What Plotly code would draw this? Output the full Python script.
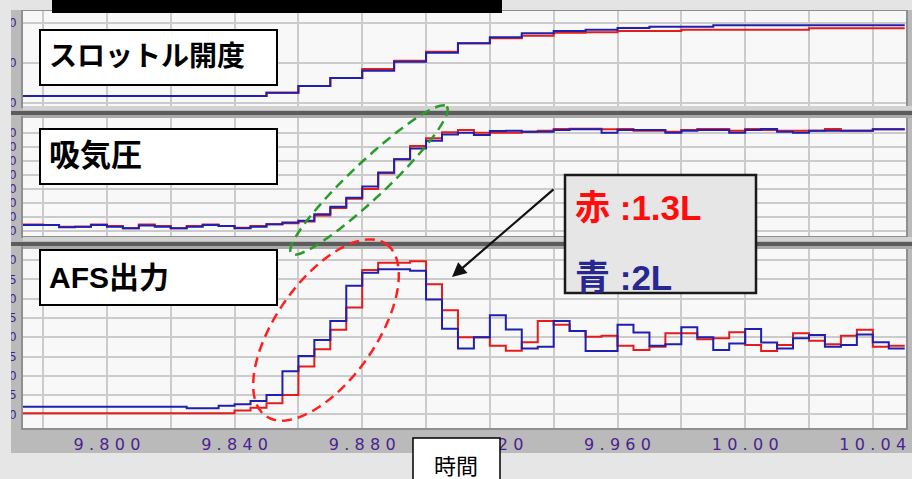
import numpy as np
import plotly.graph_objects as go

# ---------------- data ----------------
# throttle opening [%], sampled every 10 ms from 9.770 s
t_throttle = np.round(np.arange(29) * 0.01 + 9.77, 3)
throttle_blue = [8.75, 8.75, 8.75, 8.75, 8.75, 8.75, 8.75, 8.75, 12.9, 21.3,
                 31.3, 40.4, 51.6, 62.9, 74.6, 82.1, 87.1, 90.0, 91.6, 93.8,
                 95.4, 95.4, 97.1, 97.1, 97.1, 97.1, 97.1, 97.1, 97.1]
throttle_red = [8.75, 8.75, 8.75, 8.75, 8.75, 8.75, 8.75, 8.75, 12.9, 21.3,
                31.3, 42.5, 52.9, 64.1, 74.6, 80.9, 84.1, 87.9, 88.4, 90.0,
                90.0, 91.6, 91.6, 91.6, 91.6, 93.4, 93.4, 93.4, 93.4]

# intake pressure [kPa] and AFS output [V], sampled every 5 ms from 9.770 s
t_fast = np.round(np.arange(57) * 0.005 + 9.77, 3)
press_blue = [34.3, 34.3, 34.3, 32.6, 33.1, 34.3, 33.1, 31.9, 34.0, 33.1,
              31.9, 33.1, 34.3, 33.6, 31.9, 33.1, 34.8, 36.0, 37.4, 41.9,
              47.4, 53.8, 61.7, 71.7, 81.2, 89.0, 94.5, 99.0, 100.2, 98.6,
              101.4, 101.6, 100.9, 100.9, 102.1, 102.6, 102.6, 100.2, 102.1, 102.1,
              102.1, 100.2, 101.6, 102.1, 102.1, 100.2, 102.1, 102.9, 100.9, 100.2,
              101.6, 101.6, 101.6, 101.6, 102.6, 102.6, 102.6]
press_red = [34.6, 34.6, 34.3, 33.1, 33.1, 34.6, 33.6, 31.9, 34.6, 33.6,
             31.9, 33.6, 34.6, 33.6, 32.3, 33.6, 34.8, 35.5, 36.8, 41.0,
             46.5, 53.0, 60.0, 71.2, 81.2, 90.7, 96.2, 100.5, 102.1, 100.2,
             100.2, 100.2, 100.9, 101.6, 102.9, 103.1, 103.1, 102.6, 102.9, 101.6,
             101.6, 100.9, 102.1, 102.9, 102.9, 101.6, 102.9, 102.1, 101.6, 101.6,
             101.6, 102.9, 101.6, 101.6, 102.6, 102.6, 102.6]
afs_blue = [1.20, 1.20, 1.20, 1.20, 1.20, 1.20, 1.20, 1.20, 1.20, 1.20,
            1.20, 1.16, 1.16, 1.225, 1.26, 1.35, 1.50, 2.12, 2.51, 2.93,
            3.42, 4.33, 4.67, 4.76, 4.76, 4.72, 3.98, 3.22, 2.71, 3.00,
            3.57, 3.20, 2.71, 2.75, 3.42, 3.16, 2.64, 2.64, 3.32, 3.12,
            2.78, 2.82, 3.26, 3.00, 2.67, 2.84, 3.21, 2.86, 2.71, 2.97,
            3.06, 2.75, 2.80, 3.07, 2.87, 2.71, 2.71]
afs_red = [1.03, 1.03, 1.03, 1.03, 1.03, 1.03, 1.03, 1.03, 1.03, 1.03,
           1.03, 1.03, 1.03, 1.03, 1.10, 1.17, 1.29, 1.50, 2.24, 2.69,
           3.19, 3.77, 4.74, 4.93, 4.93, 4.97, 4.37, 3.70, 3.00, 3.00,
           2.78, 2.65, 2.87, 3.42, 3.32, 3.16, 3.01, 3.04, 2.78, 2.67,
           2.75, 3.10, 3.10, 2.95, 2.97, 3.13, 2.80, 2.64, 2.80, 3.10,
           2.91, 2.82, 3.04, 3.19, 2.75, 2.78, 2.78]

# axis ticks
x_grid = [9.78, 9.80, 9.82, 9.84, 9.86, 9.88, 9.90, 9.92, 9.94, 9.96, 9.98, 10.00, 10.02, 10.04]
x_labels = ["", "9.800", "", "9.840", "", "9.880", "", "9.920", "", "9.960", "", "10.00", "", "10.04"]
thr_ticks = [0, 50, 100]
press_ticks = [30, 40, 50, 60, 70, 80, 90, 100]
afs_ticks = [1.0, 1.5, 2.0, 2.5, 3.0, 3.5, 4.0, 4.5, 5.0]

panel_titles = ["スロットル開度", "吸気圧", "AFS出力"]
legend_red = "赤 :1.3L"
legend_blue = "青 :2L"
x_title = "時間"

# ---------------- geometry helpers (pixels -> paper) ----------------
W, H = 912, 479
PL, PR, PT, PB = 23, 906, 11, 428


def px(X):
    return (X - PL) / (PR - PL)


def py(Y):
    return (PB - Y) / (PB - PT)


RED = "#e31c1c"
BLUE = "#2020ad"
PURPLE = "#4b1f91"
GRID = "#cbcbcb"

fig = go.Figure()


def step(xs, ys, color, xa, ya):
    fig.add_trace(go.Scatter(x=xs, y=ys, mode="lines",
                             line=dict(color=color, width=2, shape="hv"),
                             xaxis=xa, yaxis=ya, showlegend=False, hoverinfo="skip"))


step(t_throttle, throttle_red, RED, "x3", "y")
step(t_throttle, throttle_blue, BLUE, "x3", "y")
step(t_fast, press_red, RED, "x2", "y2")
step(t_fast, press_blue, BLUE, "x2", "y2")
step(t_fast, afs_red, RED, "x", "y3")
step(t_fast, afs_blue, BLUE, "x", "y3")


def spaced(s):
    return "\u2004".join(s) if s else ""


xtickfont = dict(family="DejaVu Sans", size=16, color=PURPLE)
ytickfont = dict(family="DejaVu Sans", size=12, color=PURPLE)
xrange_ = [9.7737, 10.0504]
common_x = dict(range=xrange_, tickvals=x_grid, showgrid=True, gridcolor=GRID, gridwidth=2,
                showline=True, linecolor="#8f8f8f", linewidth=2, mirror=True,
                zeroline=False, ticks="", fixedrange=True, automargin=False)
common_y = dict(showgrid=True, gridcolor=GRID, gridwidth=2, showline=True,
                linecolor="#8f8f8f", linewidth=2, mirror=True, zeroline=False,
                ticks="", tickfont=ytickfont, ticklabelstandoff=2, automargin=False,
                fixedrange=True)

fig.update_layout(
    width=W, height=H,
    margin=dict(l=PL, r=W - PR, t=PT, b=H - PB, pad=0, autoexpand=False),
    paper_bgcolor="#bababa", plot_bgcolor="#f8f8f8",
    xaxis=dict(domain=[0, 1], anchor="y3", ticktext=[spaced(s) for s in x_labels],
               tickfont=xtickfont, ticklabelstandoff=1, **common_x),
    xaxis2=dict(domain=[0, 1], anchor="y2", matches="x", showticklabels=False, **common_x),
    xaxis3=dict(domain=[0, 1], anchor="y", matches="x", showticklabels=False, **common_x),
    yaxis=dict(domain=[py(106), 1.0], anchor="x3", range=[-3.75, 115],
               tickvals=thr_ticks, ticktext=[str(v) for v in thr_ticks], **common_y),
    yaxis2=dict(domain=[py(236), py(118)], anchor="x2", range=[26.43, 110.7],
                tickvals=press_ticks, ticktext=[str(v) for v in press_ticks], **common_y),
    yaxis3=dict(domain=[0, py(248)], anchor="x", range=[0.6477, 5.311],
                tickvals=afs_ticks, ticktext=["%.1f" % v for v in afs_ticks], **common_y),
)

shapes = []


def rect(X0, Y0, X1, Y1, fill, line_color=None, lw=0, layer="above"):
    shapes.append(dict(type="rect", xref="paper", yref="paper",
                       x0=px(X0), x1=px(X1), y0=py(Y1), y1=py(Y0),
                       fillcolor=fill, layer=layer,
                       line=dict(color=line_color or fill, width=lw)))


# window surroundings
rect(0, 0, 11, H, "#e6e6e6")
rect(0, 453, W, H, "#e6e6e6")
rect(11, 0, W, 10, "#e4e4e4")
rect(52, 0, 502, 13, "#000000")
# panel separators
for top in (106, 237):
    rect(23, top, W, top + 4, "#d2d2d2")
    rect(11, top + 5, W, top + 9, "#5c5c5c")
    rect(23, top + 9, W, top + 12, "#a9a9a9")

# label boxes
for y0 in (30, 129, 250):
    rect(40, y0, 277, y0 + 55, "#ffffff", "#000000", 2)
# legend box
rect(565, 175, 756, 293, "#e6e6e6", "#1a1a1a", 2.5)
# x-axis title box
rect(413, 438, 500, 486, "#ffffff", "#000000", 1.5)


def ellipse(cx, cy, a, b, ang, color):
    th = np.radians(ang)
    pts = []
    for p in np.linspace(0, 2 * np.pi, 90):
        ex, ey = a * np.cos(p), b * np.sin(p)
        X = cx + ex * np.cos(th) + ey * np.sin(th)
        Y = cy - ex * np.sin(th) + ey * np.cos(th)
        pts.append("%.5f %.5f" % (px(X), py(Y)))
    path = "M " + " L ".join(pts) + " Z"
    shapes.append(dict(type="path", xref="paper", yref="paper", path=path,
                       line=dict(color=color, width=2.5, dash="10px,6px"), layer="above"))


ellipse(369, 180, 107, 18, 43.4, "#2a9b2a")
ellipse(326, 330, 105, 50, 55, "#ff1f1f")

annotations = []


def text(X, Y, s, size, color, bold=True, family="Liberation Sans, Noto Sans CJK JP", xanchor="left"):
    annotations.append(dict(xref="paper", yref="paper", x=px(X), y=py(Y), text=s,
                            showarrow=False, xanchor=xanchor, yanchor="middle",
                            font=dict(family=family, size=size, color=color,
                                      weight="bold" if bold else "normal")))


text(47, 57, panel_titles[0], 28, "#000000")
text(47, 156, panel_titles[1], 31, "#000000")
text(47, 277, panel_titles[2], 30, "#000000")
text(573, 208, legend_red, 35, "#ff0d0d")
text(573, 277, legend_blue, 35, "#27278f")
text(456, 464, x_title, 22, "#000000", bold=False, family="Noto Sans CJK JP", xanchor="center")

# arrow from legend to the AFS curve
annotations.append(dict(xref="paper", yref="paper", x=px(452), y=py(277), ax=103, ay=-89,
                        text="", showarrow=True, arrowhead=2, arrowsize=1.3,
                        arrowwidth=2.2, arrowcolor="#111111"))

fig.update_layout(shapes=shapes, annotations=annotations)
fig.write_html(
    "out.html",
    config={"displayModeBar": False},
    post_script="document.body.style.margin='0';document.body.style.background='#e6e6e6';",
)
